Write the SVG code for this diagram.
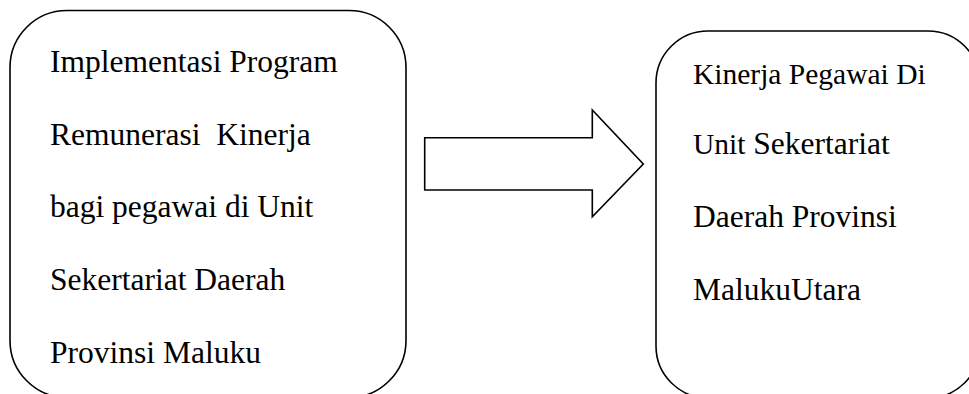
<svg xmlns="http://www.w3.org/2000/svg" width="969" height="394" viewBox="0 0 969 394">
<style>
.box{fill:#fff;stroke:#000;stroke-width:1.6}
.t{font-family:"Liberation Serif","Times New Roman",serif;font-size:31.5px;fill:#000;white-space:pre}
.s{font-size:29.5px}
</style>
<rect width="969" height="394" fill="#fff"/>
<g id="node-left">
<rect class="box" x="10" y="10.5" width="396" height="387" rx="57" ry="57"/>
<text class="t" x="50" y="72">Implementasi Program</text>
<text class="t" x="50" y="145">Remunerasi  Kinerja</text>
<text class="t" x="50" y="217">bagi pegawai di Unit</text>
<text class="t" x="50" y="290">Sekertariat Daerah</text>
<text class="t" x="50" y="363">Provinsi Maluku</text>
</g>
<g id="node-right">
<rect class="box" x="656" y="31" width="324" height="367" rx="52" ry="52"/>
<text class="t s" x="693" y="84">Kinerja Pegawai Di</text>
<text class="t" x="693" y="154"><tspan class="s">Unit</tspan> Sekertariat</text>
<text class="t" x="693" y="227">Daerah Provinsi</text>
<text class="t" x="693" y="300">MalukuUtara</text>
</g>
<g id="connectors">
<polygon class="box" points="424.7,137.7 592.3,137.7 592.3,110 643.3,164 592.3,216.7 592.3,190 424.7,190"/>
</g>
</svg>
